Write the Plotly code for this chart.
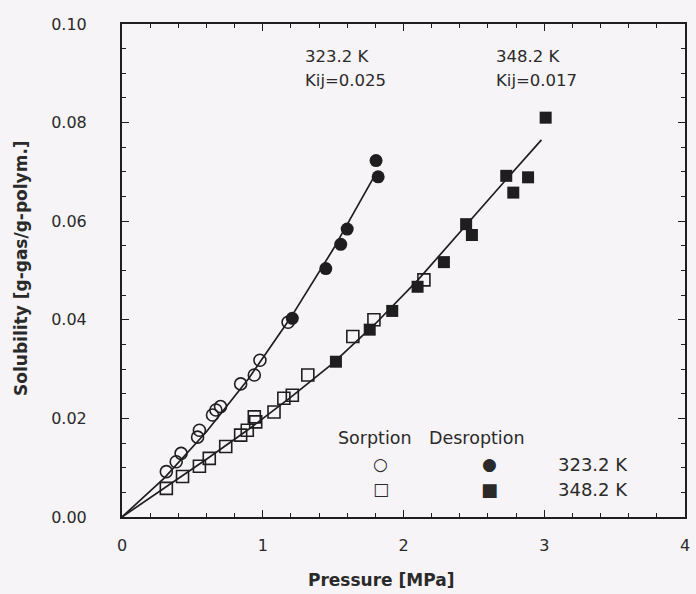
import plotly.graph_objects as go

# ---- data ----
# 323.2 K sorption (open circles)
s323_x = [0.315, 0.385, 0.42, 0.537, 0.55, 0.643, 0.667, 0.70, 0.843, 0.94, 0.98, 1.18]
s323_y = [0.0092, 0.0112, 0.0129, 0.0162, 0.0176, 0.0207, 0.0217, 0.0224, 0.0270, 0.0288, 0.0318, 0.0395]
# 323.2 K desorption (filled circles)
d323_x = [1.21, 1.448, 1.554, 1.60, 1.805, 1.82]
d323_y = [0.0403, 0.0504, 0.0553, 0.0584, 0.0723, 0.0690]
# 348.2 K sorption (open squares)
s348_x = [0.315, 0.43, 0.55, 0.62, 0.737, 0.843, 0.89, 0.95, 0.94, 1.08, 1.15, 1.21, 1.32, 1.64, 1.79, 2.145]
s348_y = [0.0058, 0.0082, 0.0103, 0.0119, 0.0143, 0.0166, 0.0176, 0.0193, 0.0203, 0.0213, 0.0241, 0.0247, 0.0288, 0.0366, 0.0400, 0.0481]
# 348.2 K desorption (filled squares)
d348_x = [1.52, 1.76, 1.92, 2.10, 2.287, 2.445, 2.486, 2.73, 2.78, 2.885, 3.01]
d348_y = [0.0315, 0.0380, 0.0418, 0.0467, 0.0517, 0.0594, 0.0572, 0.0692, 0.0658, 0.0689, 0.0810]
# model curves
fit323_x = [0, 0.3, 0.6, 0.9, 1.2, 1.5, 1.8]
fit323_y = [0, 0.0079, 0.0173, 0.0281, 0.0405, 0.0543, 0.0695]
fit348_x = [0, 0.3, 0.6, 0.9, 1.2, 1.5, 1.8, 2.1, 2.4, 2.7, 2.98]
fit348_y = [0, 0.0058, 0.0117, 0.0178, 0.0243, 0.0312, 0.0392, 0.0480, 0.0578, 0.0675, 0.0765]

x_ticks = [0, 1, 2, 3, 4]
y_ticks = [0.00, 0.02, 0.04, 0.06, 0.08, 0.10]

INK = "#1e1e1e"
BG = "#f7f4f7"
FONT = "DejaVu Sans, Arial, sans-serif"

fig = go.Figure()
for fx, fy in [(fit323_x, fit323_y), (fit348_x, fit348_y)]:
    fig.add_trace(go.Scatter(x=fx, y=fy, mode="lines",
                             line=dict(color=INK, width=1.7), showlegend=False))

fig.add_trace(go.Scatter(x=s323_x, y=s323_y, mode="markers", showlegend=False,
                         marker=dict(symbol="circle-open", size=12, color=INK, line=dict(width=1.6, color=INK))))
fig.add_trace(go.Scatter(x=s348_x, y=s348_y, mode="markers", showlegend=False,
                         marker=dict(symbol="square-open", size=12, color=INK, line=dict(width=1.6, color=INK))))
fig.add_trace(go.Scatter(x=d323_x, y=d323_y, mode="markers", showlegend=False,
                         marker=dict(symbol="circle", size=13, color=INK)))
fig.add_trace(go.Scatter(x=d348_x, y=d348_y, mode="markers", showlegend=False,
                         marker=dict(symbol="square", size=12, color=INK)))

axis_common = dict(
    showline=True, linecolor=INK, linewidth=2, mirror="ticks",
    ticks="inside", ticklen=7, tickwidth=1.3, tickcolor=INK,
    showgrid=False, zeroline=False,
    tickfont=dict(family=FONT, size=16, color="#2a2a2a"),
)

fig.update_xaxes(range=[0, 4], tickvals=x_ticks, ticktext=[str(v) for v in x_ticks],
                 ticklabelstandoff=13,
                 minor=dict(ticks="inside", ticklen=4, tickcolor=INK, dtick=0.2, showgrid=False),
                 **axis_common)
fig.update_yaxes(range=[0, 0.1], tickvals=y_ticks, ticktext=[f"{v:.2f}" for v in y_ticks],
                 ticklabelstandoff=30,
                 minor=dict(ticks="inside", ticklen=4, tickcolor=INK, dtick=0.005, showgrid=False),
                 **axis_common)

# plot area in pixels: left 122, right 690, top 24, bottom 517
def pp(x, y):
    return (x - 122) / 568, (517 - y) / 493

def txt(pos, s, size=16, bold=False, xanchor="left", angle=0):
    fig.add_annotation(x=pos[0], y=pos[1], xref="paper", yref="paper",
                       text=(f"<b>{s}</b>" if bold else s),
                       showarrow=False, xanchor=xanchor, yanchor="middle", textangle=angle,
                       font=dict(family=FONT, size=size, color="#2a2a2a"))

# curve labels
txt(pp(305, 57), "323.2 K", size=16.5)
txt(pp(305, 80), "Kij=0.025", size=16.5)
txt(pp(497, 57), "348.2 K", size=16.5)
txt(pp(497, 80), "Kij=0.017", size=16.5)

# legend block
txt(pp(338, 438), "Sorption", size=17.5)
txt(pp(430, 438), "Desroption", size=17.5)
txt(pp(383, 464), "○", size=17, xanchor="center")
txt(pp(493, 464), "●", size=17, xanchor="center")
txt(pp(383, 489), "□", size=17, xanchor="center")
txt(pp(493, 489), "■", size=18, xanchor="center")
txt(pp(560, 464), "323.2 K", size=18)
txt(pp(560, 489), "348.2 K", size=18)

# axis titles
txt(pp(383, 580), "Pressure [MPa]", size=17, bold=True, xanchor="center")
txt(pp(20, 268), "Solubility [g-gas/g-polym.]", size=17, bold=True, xanchor="center", angle=-90)

fig.update_layout(
    width=696, height=594,
    margin=dict(l=122, r=6, t=24, b=77),
    paper_bgcolor=BG, plot_bgcolor=BG,
    showlegend=False,
)

fig.write_html("out.html")
